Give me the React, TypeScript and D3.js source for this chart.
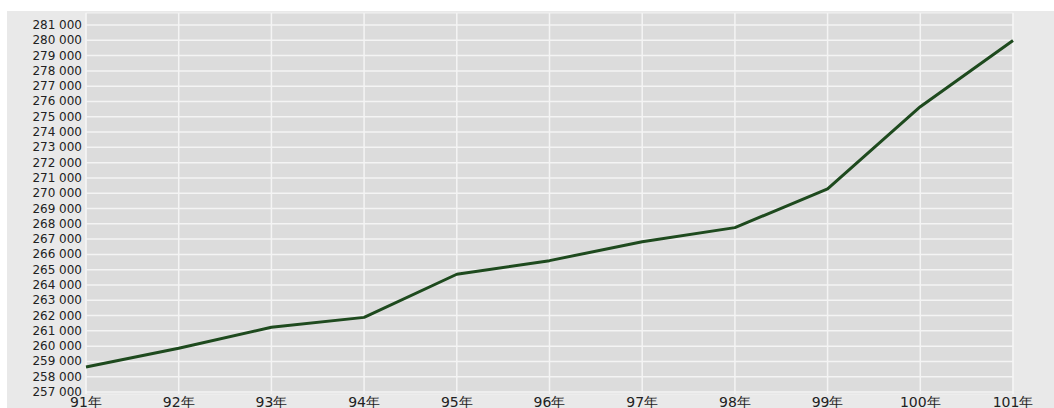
import React from "react";
import * as d3 from "d3";

const years = ["91年", "92年", "93年", "94年", "95年", "96年", "97年", "98年", "99年", "100年", "101年"];
const values = [258640, 259860, 261230, 261880, 264700, 265590, 266830, 267750, 270280, 275660, 279990];
const yTicks = d3.range(257000, 282000, 1000);

const W = 1054;
const H = 408;

export default function App() {
  const x = d3.scalePoint<string>().domain(years).range([86, 1013]);
  const y = d3.scaleLinear().domain([257000, 281000]).range([392, 25]);
  const line = d3
    .line<number>()
    .x((_, i) => x(years[i]) as number)
    .y((d) => y(d));
  const fmt = (v: number) => d3.format(",")(v).replace(/,/g, " ");

  return (
    <svg
      width={W}
      height={H}
      style={{ position: "absolute", left: 0, top: 0, display: "block" }}
      fontFamily="DejaVu Sans, sans-serif"
    >
      <rect x={0} y={0} width={W} height={H} fill="#ffffff" />
      <rect x={7} y={11} width={W - 7} height={H - 11} fill="#e9e9e9" />
      <rect x={86} y={13} width={1013 - 86} height={394 - 13} fill="#dcdcdc" stroke="#f2f2f2" strokeWidth={1} />
      {yTicks.map((t) => (
        <line key={"h" + t} x1={86} x2={1013} y1={y(t)} y2={y(t)} stroke="#f4f4f4" strokeWidth={1.5} />
      ))}
      {years.map((yr) => (
        <line key={"v" + yr} x1={x(yr)} x2={x(yr)} y1={13} y2={394} stroke="#f4f4f4" strokeWidth={1.5} />
      ))}
      <path d={line(values) || ""} fill="none" stroke="#1e4a1e" strokeWidth={3} strokeLinejoin="round" />
      {yTicks.map((t) => (
        <text key={"yl" + t} x={82} y={y(t) + 4} textAnchor="end" fontSize={12} fill="#222">
          {fmt(t)}
        </text>
      ))}
      {years.map((yr) => (
        <text key={"xl" + yr} x={x(yr)} y={407} textAnchor="middle" fontSize={14} fill="#222">
          {yr}
        </text>
      ))}
    </svg>
  );
}
